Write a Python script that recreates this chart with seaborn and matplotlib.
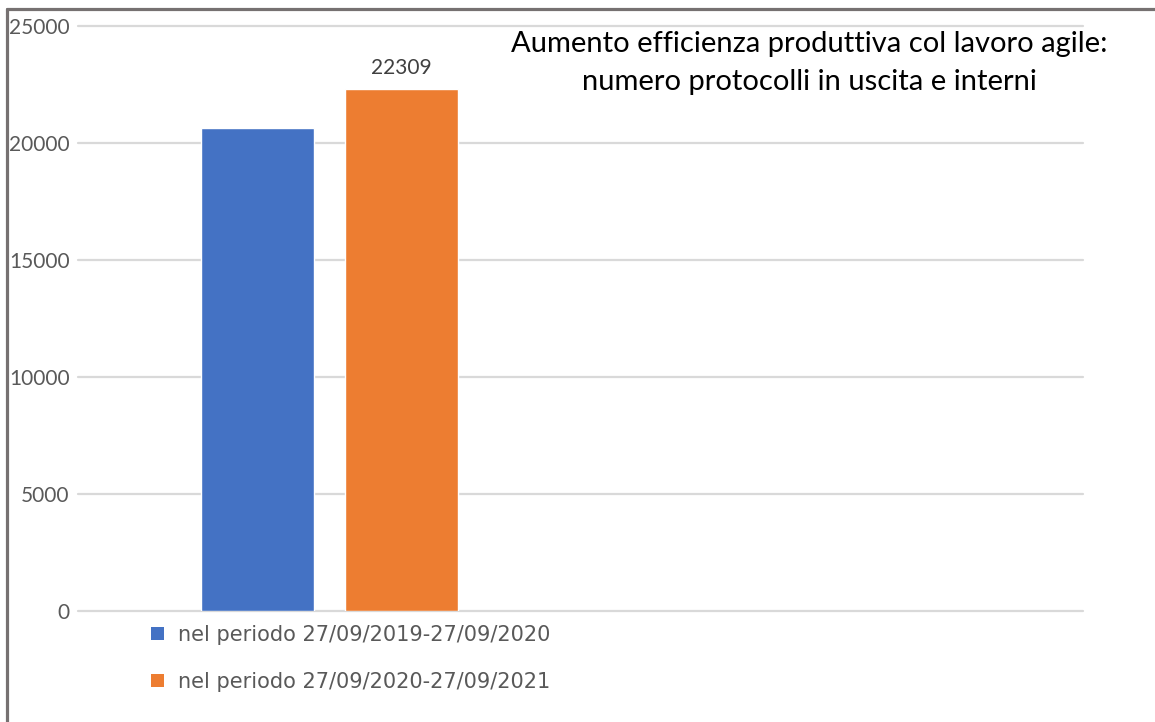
import matplotlib
matplotlib.use("Agg")
import matplotlib.pyplot as plt
from matplotlib.lines import Line2D
from matplotlib.patches import Patch
import seaborn as sns
import pandas as pd

# Data
periods = [
    "nel periodo 27/09/2019-27/09/2020",
    "nel periodo 27/09/2020-27/09/2021",
]
protocolli = [20640, 22309]
gruppo = ["protocolli", "protocolli"]
colors = ["#4472C4", "#ED7D31"]
y_ticks = [0, 5000, 10000, 15000, 20000, 25000]
title = "Aumento efficienza produttiva col lavoro agile:\nnumero protocolli in uscita e interni"

df = pd.DataFrame({"gruppo": gruppo, "periodo": periods, "protocolli": protocolli})

sns.set_theme(style="white")
plt.rcParams["font.family"] = ["Lato", "DejaVu Sans"]

W, H = 1155, 722
fig = plt.figure(figsize=(W / 100, H / 100), dpi=100)
fig.patch.set_facecolor("white")
ax = fig.add_axes([78 / W, 111 / H, 1005 / W, 585 / H])

sns.barplot(
    data=df, x="gruppo", y="protocolli", hue="periodo",
    hue_order=periods, palette=colors, width=0.8, gap=0.215,
    saturation=1, legend=False, ax=ax,
)

ax.set_xlim(-0.6986, 2.093)
ax.set_ylim(0, 25000)
ax.set_yticks(y_ticks)
ax.set_yticklabels([str(v) for v in y_ticks])
ax.set_xticks([])
ax.set_xlabel("")
ax.set_ylabel("")
ax.yaxis.grid(True, color="#d9d9d9", linewidth=1.6)
ax.set_axisbelow(True)
for s in ax.spines.values():
    s.set_visible(False)
ax.tick_params(axis="y", length=0, pad=6, labelsize=15, labelcolor="#595959")
for lbl in ax.get_yticklabels():
    lbl.set_clip_on(False)
for gl in ax.get_ygridlines():
    gl.set_clip_on(False)

# Value label on the second period's bar
ax.bar_label(ax.containers[1], labels=[str(protocolli[1])], padding=8,
             fontsize=15, color="#404040")

# Title
fig.text(809 / W, 1 - 31 / H, title, ha="center", va="top",
         fontsize=21, color="black", linespacing=1.55)

# Legend below the plot
handles = [Patch(facecolor=c, edgecolor="none") for c in colors]
fig.legend(handles, periods, loc="upper left",
           bbox_to_anchor=(132 / W, 1 - 606 / H), frameon=False,
           labelcolor="#595959", handlelength=0.62,
           handleheight=0.62, handletextpad=0.7, labelspacing=1.29,
           prop={"family": ["DejaVu Sans"], "size": 15})

# Frame lines on the left and top edges
fig.add_artist(Line2D([7 / W, 7 / W], [0, 1 - 9 / H], color="#767171",
                      linewidth=2.3, transform=fig.transFigure))
fig.add_artist(Line2D([7 / W, 1], [1 - 9 / H, 1 - 9 / H], color="#767171",
                      linewidth=2.3, transform=fig.transFigure))

fig.savefig("out.png", dpi=100, facecolor="white")
